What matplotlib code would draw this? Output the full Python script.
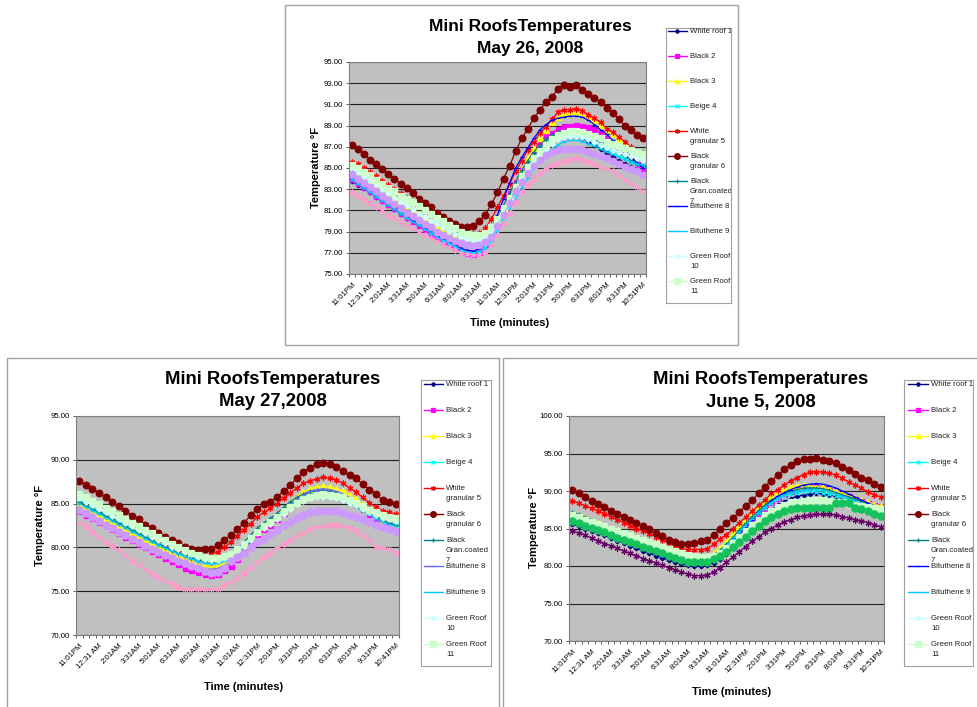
import numpy as np
import matplotlib
matplotlib.use('Agg')
import matplotlib.pyplot as plt
from matplotlib.patches import Rectangle
from matplotlib.ticker import FormatStrFormatter

plt.rcParams['font.family'] = ['Liberation Sans', 'DejaVu Sans']

W, H = 978, 707

names = ['White roof 1', 'Black 2', 'Black 3', 'Beige 4', 'White\ngranular 5',
         'Black\ngranular 6', 'Black\nGran.coated\n7', 'Bituthene 8', 'Bituthene 9',
         'Green Roof\n10', 'Green Roof\n11']

ticks_may26 = ['11:01PM', '12:31 AM', '2:01AM', '3:31AM', '5:01AM', '6:31AM', '8:01AM',
               '9:31AM', '11:01AM', '12:31PM', '2:01PM', '3:31PM', '5:01PM', '6:31PM',
               '8:01PM', '9:31PM', '10:51PM']
ticks_may27 = ticks_may26[:-1] + ['10:41PM']
ticks_jun05 = ticks_may26[:]

# ---- May 26, 2008 (30 min readings) ----
wr1_may26 = [83.8, 83.4, 83.1, 82.7, 82.3, 81.9, 81.5, 81.1, 80.7, 80.3, 80.0, 79.6, 79.2, 78.9, 78.5, 78.2, 77.9, 77.6, 77.4, 77.2,
             77.2, 77.3, 77.7, 78.5, 79.6, 80.8, 82.0, 83.2, 84.3, 85.2, 86.0, 86.7, 87.2, 87.6, 87.9, 88.0, 88.1, 88.0, 87.8, 87.5,
             87.2, 86.8, 86.4, 86.0, 85.7, 85.4, 85.1, 84.9, 84.7]
bk2_may26 = [84.0, 83.6, 83.2, 82.8, 82.4, 82.0, 81.6, 81.2, 80.8, 80.4, 80.0, 79.6, 79.2, 78.8, 78.5, 78.1, 77.8, 77.5, 77.2, 77.0,
             76.9, 77.1, 77.7, 78.8, 80.1, 81.4, 82.6, 83.7, 84.8, 85.8, 86.7, 87.5, 88.0, 88.3, 88.7, 89.0, 89.0, 89.1, 89.0, 88.9,
             88.7, 88.3, 87.8, 87.3, 86.8, 86.3, 85.8, 85.4, 85.0]
bk3_may26 = [85.0, 84.7, 84.3, 83.9, 83.5, 83.1, 82.7, 82.3, 81.9, 81.5, 81.1, 80.7, 80.3, 79.9, 79.5, 79.1, 78.7, 78.4, 78.1, 77.9,
             77.8, 77.9, 78.3, 79.0, 80.0, 81.2, 82.4, 83.6, 84.8, 85.9, 86.9, 87.8, 88.6, 89.3, 89.8, 90.1, 90.2, 90.3, 90.1, 89.8,
             89.5, 89.1, 88.6, 88.2, 87.7, 87.3, 86.8, 86.3, 86.1]
be4_may26 = [84.0, 83.6, 83.2, 82.8, 82.4, 82.0, 81.6, 81.2, 80.8, 80.4, 80.1, 79.7, 79.3, 78.9, 78.6, 78.2, 77.9, 77.6, 77.3, 77.1,
             77.0, 77.1, 77.5, 78.2, 79.2, 80.3, 81.5, 82.6, 83.7, 84.7, 85.5, 86.3, 86.9, 87.4, 87.8, 88.0, 88.1, 88.1, 87.9, 87.7,
             87.4, 87.1, 86.8, 86.5, 86.2, 85.9, 85.6, 85.4, 85.2]
wg5_may26 = [85.6, 85.4, 85.0, 84.6, 84.2, 83.8, 83.4, 83.0, 82.6, 82.2, 81.8, 81.4, 81.0, 80.6, 80.3, 79.9, 79.6, 79.3, 79.0, 78.8,
             78.8, 78.9, 79.3, 80.2, 81.3, 82.4, 83.5, 84.7, 85.7, 86.7, 87.5, 88.3, 88.9, 89.6, 90.3, 90.5, 90.5, 90.6, 90.4, 90.0,
             89.7, 89.3, 88.7, 88.4, 87.9, 87.5, 87.0, 86.5, 86.4]
bg6_may26 = [87.2, 86.8, 86.3, 85.8, 85.4, 84.9, 84.4, 84.0, 83.5, 83.1, 82.6, 82.1, 81.7, 81.3, 80.8, 80.4, 80.0, 79.7, 79.4, 79.4,
             79.5, 80.0, 80.6, 81.6, 82.7, 84.0, 85.2, 86.6, 87.8, 88.7, 89.7, 90.5, 91.2, 91.7, 92.5, 92.8, 92.6, 92.8, 92.4, 92.0,
             91.6, 91.2, 90.7, 90.2, 89.6, 89.0, 88.6, 88.1, 87.8]
bgc7_may26 = [84.3, 83.9, 83.5, 83.1, 82.7, 82.3, 81.9, 81.5, 81.1, 80.8, 80.4, 80.0, 79.7, 79.3, 79.0, 78.7, 78.4, 78.1, 77.9, 77.7,
              77.7, 77.8, 78.3, 79.1, 80.2, 81.4, 82.6, 83.7, 84.8, 85.7, 86.5, 87.2, 87.7, 88.1, 88.4, 88.5, 88.6, 88.5, 88.3, 88.0,
              87.7, 87.4, 87.1, 86.7, 86.4, 86.1, 85.8, 85.5, 85.3]
bt8_may26 = [83.9, 83.5, 83.1, 82.7, 82.3, 81.9, 81.5, 81.1, 80.7, 80.4, 80.0, 79.6, 79.3, 78.9, 78.6, 78.3, 78.0, 77.7, 77.4, 77.2,
             77.2, 77.4, 78.0, 79.2, 80.6, 82.1, 83.6, 85.0, 86.0, 86.9, 87.8, 88.6, 89.1, 89.5, 89.7, 89.8, 89.9, 89.9, 89.8, 89.5,
             89.1, 88.6, 88.2, 87.6, 87.1, 86.6, 86.1, 85.5, 85.0]
bt9_may26 = [83.9, 83.5, 83.1, 82.7, 82.3, 81.9, 81.5, 81.1, 80.7, 80.3, 79.9, 79.6, 79.2, 78.9, 78.5, 78.2, 77.9, 77.6, 77.3, 77.1,
             77.0, 77.1, 77.4, 78.0, 78.9, 79.9, 81.0, 82.1, 83.1, 84.1, 85.0, 85.7, 86.3, 86.8, 87.2, 87.5, 87.6, 87.6, 87.5, 87.3,
             87.1, 86.8, 86.5, 86.3, 86.0, 85.8, 85.6, 85.4, 85.3]
gr10_may26 = [84.9, 84.6, 84.2, 83.8, 83.4, 83.0, 82.6, 82.2, 81.8, 81.5, 81.1, 80.7, 80.4, 80.0, 79.7, 79.4, 79.1, 78.8, 78.5, 78.3,
              78.2, 78.2, 78.5, 79.0, 79.8, 80.8, 81.8, 82.8, 83.8, 84.7, 85.5, 86.2, 86.8, 87.3, 87.7, 87.9, 88.0, 88.0, 87.9, 87.7,
              87.5, 87.2, 87.0, 86.7, 86.5, 86.3, 86.1, 85.9, 85.8]
gr11_may26 = [85.3, 85.0, 84.6, 84.3, 83.9, 83.5, 83.1, 82.8, 82.4, 82.1, 81.8, 81.4, 81.0, 80.7, 80.3, 80.0, 79.6, 79.3, 79.0, 78.8,
              78.7, 78.7, 78.9, 79.4, 80.2, 81.2, 82.2, 83.2, 84.2, 85.1, 85.9, 86.6, 87.2, 87.7, 88.1, 88.3, 88.5, 88.5, 88.4, 88.2,
              88.0, 87.8, 87.5, 87.3, 87.1, 86.9, 86.7, 86.5, 86.3]
s12_may26 = [84.4, 84.0, 83.6, 83.2, 82.8, 82.4, 82.0, 81.6, 81.2, 80.8, 80.5, 80.1, 79.7, 79.4, 79.0, 78.7, 78.4, 78.1, 77.9, 77.7,
             77.6, 77.7, 78.0, 78.5, 79.5, 80.6, 81.7, 82.8, 83.7, 84.5, 85.2, 85.8, 86.2, 86.5, 86.7, 86.8, 86.8, 86.8, 86.7, 86.5,
             86.3, 86.1, 85.9, 85.7, 85.4, 85.1, 84.9, 84.7, 84.3]
s13_may26 = [82.7, 82.4, 82.0, 81.7, 81.3, 81.0, 80.6, 80.3, 79.9, 79.6, 79.3, 79.0, 78.7, 78.4, 78.1, 77.8, 77.5, 77.3, 77.0, 76.9,
             76.8, 76.8, 77.1, 77.7, 78.7, 79.8, 80.8, 81.8, 82.7, 83.4, 84.0, 84.5, 84.9, 85.3, 85.5, 85.7, 85.8, 85.9, 85.8, 85.6,
             85.4, 85.1, 84.9, 84.7, 84.3, 83.9, 83.6, 83.2, 82.8]

# ---- May 27, 2008 ----
wr1_may27 = [84.5, 84.0, 83.6, 83.2, 82.8, 82.4, 82.0, 81.5, 81.1, 80.7, 80.3, 79.9, 79.5, 79.2, 78.8, 78.5, 78.2, 77.9, 77.6, 77.5,
             77.4, 77.5, 77.8, 78.3, 79.0, 79.8, 80.7, 81.6, 82.2, 82.7, 83.3, 84.0, 84.7, 85.4, 85.9, 86.3, 86.5, 86.6, 86.5, 86.3,
             86.0, 85.6, 85.1, 84.5, 83.9, 83.3, 82.8, 82.3, 82.0]
bk2_may27 = [84.2, 83.7, 83.3, 82.9, 82.5, 82.1, 81.6, 81.2, 80.8, 80.4, 80.0, 79.6, 79.2, 78.8, 78.4, 78.1, 77.7, 77.4, 77.2, 77.0,
             76.9, 77.0, 77.4, 77.9, 78.7, 79.6, 80.5, 81.5, 82.1, 82.6, 83.2, 83.9, 84.6, 85.2, 85.8, 86.1, 86.3, 86.4, 86.3, 86.1,
             85.8, 85.4, 84.9, 84.4, 83.8, 83.2, 82.7, 82.2, 81.9]
bk3_may27 = [85.0, 84.6, 84.2, 83.8, 83.4, 83.0, 82.6, 82.2, 81.7, 81.3, 80.9, 80.5, 80.1, 79.7, 79.3, 79.0, 78.6, 78.3, 78.0, 77.9,
             77.8, 77.9, 78.2, 78.7, 79.4, 80.2, 81.1, 82.0, 82.6, 83.1, 83.7, 84.4, 85.1, 85.8, 86.3, 86.7, 86.9, 87.0, 86.9, 86.7,
             86.4, 86.0, 85.5, 84.9, 84.3, 83.7, 83.1, 82.6, 82.3]
be4_may27 = [85.3, 84.9, 84.5, 84.1, 83.7, 83.3, 82.9, 82.5, 82.1, 81.7, 81.3, 80.9, 80.5, 80.2, 79.8, 79.5, 79.2, 78.9, 78.7, 78.5,
             78.4, 78.5, 78.7, 79.1, 79.7, 80.4, 81.1, 81.9, 82.5, 83.0, 83.6, 84.2, 84.8, 85.3, 85.7, 86.0, 86.2, 86.2, 86.1, 86.0,
             85.7, 85.3, 84.9, 84.4, 83.9, 83.4, 83.0, 82.7, 82.5]
wg5_may27 = [85.9, 85.5, 85.1, 84.7, 84.3, 83.9, 83.4, 83.0, 82.5, 82.1, 81.6, 81.2, 80.8, 80.4, 80.0, 79.7, 79.4, 79.2, 79.1, 79.1,
             79.2, 79.5, 80.0, 80.6, 81.3, 82.0, 82.7, 83.5, 84.0, 84.5, 85.0, 85.6, 86.2, 86.8, 87.3, 87.6, 87.8, 88.0, 87.9, 87.7,
             87.3, 86.8, 86.3, 85.7, 85.1, 84.6, 84.2, 84.0, 83.8]
bg6_may27 = [87.6, 87.1, 86.7, 86.2, 85.7, 85.2, 84.7, 84.2, 83.6, 83.2, 82.6, 82.2, 81.7, 81.2, 80.8, 80.5, 80.1, 79.8, 79.7, 79.8,
             79.8, 80.3, 80.8, 81.4, 82.1, 82.8, 83.7, 84.4, 84.9, 85.2, 85.8, 86.4, 87.1, 87.9, 88.6, 89.1, 89.5, 89.6, 89.5, 89.2,
             88.7, 88.3, 87.9, 87.2, 86.6, 86.1, 85.4, 85.2, 85.0]
bgc7_may27 = [85.2, 84.8, 84.4, 84.0, 83.6, 83.2, 82.8, 82.4, 82.0, 81.6, 81.2, 80.8, 80.4, 80.1, 79.7, 79.4, 79.1, 78.8, 78.6, 78.4,
              78.3, 78.4, 78.7, 79.1, 79.8, 80.6, 81.4, 82.2, 82.8, 83.3, 83.9, 84.6, 85.2, 85.7, 86.1, 86.4, 86.5, 86.5, 86.4, 86.2,
              85.9, 85.5, 85.0, 84.5, 84.0, 83.5, 83.1, 82.8, 82.5]
bt8_may27 = [84.3, 83.9, 83.5, 83.1, 82.7, 82.3, 81.9, 81.5, 81.1, 80.7, 80.3, 79.9, 79.5, 79.2, 78.8, 78.5, 78.2, 77.9, 77.7, 77.6,
             77.5, 77.6, 77.9, 78.4, 79.1, 79.9, 80.8, 81.7, 82.3, 82.8, 83.4, 84.1, 84.8, 85.5, 86.0, 86.4, 86.6, 86.7, 86.6, 86.4,
             86.1, 85.7, 85.2, 84.6, 84.0, 83.4, 82.9, 82.4, 82.1]
bt9_may27 = [85.0, 84.6, 84.2, 83.8, 83.4, 83.0, 82.6, 82.2, 81.8, 81.4, 81.0, 80.6, 80.3, 79.9, 79.6, 79.3, 79.0, 78.7, 78.4, 78.2,
             78.1, 78.2, 78.4, 78.8, 79.4, 80.1, 80.8, 81.6, 82.2, 82.7, 83.3, 83.9, 84.5, 85.0, 85.4, 85.7, 85.9, 85.9, 85.8, 85.7,
             85.4, 85.0, 84.6, 84.1, 83.7, 83.3, 82.9, 82.6, 82.4]
gr10_may27 = [85.6, 85.2, 84.8, 84.4, 84.0, 83.6, 83.2, 82.8, 82.4, 82.0, 81.6, 81.2, 80.8, 80.5, 80.1, 79.8, 79.5, 79.2, 78.9, 78.7,
              78.6, 78.6, 78.8, 79.1, 79.6, 80.2, 80.9, 81.6, 82.2, 82.7, 83.2, 83.8, 84.4, 84.9, 85.3, 85.6, 85.8, 85.8, 85.8, 85.6,
              85.4, 85.1, 84.8, 84.4, 84.0, 83.7, 83.4, 83.2, 83.0]
gr11_may27 = [86.1, 85.7, 85.3, 84.9, 84.5, 84.1, 83.7, 83.2, 82.8, 82.4, 82.0, 81.6, 81.2, 80.8, 80.4, 80.1, 79.7, 79.4, 79.1, 78.9,
              78.8, 78.8, 79.0, 79.3, 79.8, 80.4, 81.1, 81.8, 82.4, 82.9, 83.5, 84.1, 84.6, 85.1, 85.5, 85.8, 86.0, 86.1, 86.0, 85.9,
              85.7, 85.4, 85.1, 84.7, 84.3, 84.0, 83.7, 83.5, 83.3]
s12_may27 = [84.3, 83.9, 83.5, 83.0, 82.6, 82.2, 81.8, 81.4, 81.0, 80.6, 80.2, 79.8, 79.5, 79.1, 78.8, 78.5, 78.2, 77.9, 77.6, 77.3,
             77.1, 77.2, 77.7, 78.5, 78.9, 79.4, 80.0, 80.6, 81.0, 81.5, 82.0, 82.5, 82.9, 83.3, 83.7, 84.0, 84.2, 84.2, 84.2, 84.1,
             83.9, 83.7, 83.5, 83.2, 82.9, 82.6, 82.3, 82.1, 81.9]
s13_may27 = [82.8, 82.4, 81.8, 81.2, 80.6, 80.2, 79.7, 79.1, 78.5, 78.0, 77.5, 77.0, 76.6, 76.2, 75.8, 75.5, 75.2, 75.2, 75.2, 75.2,
             75.2, 75.3, 75.7, 76.1, 76.5, 77.1, 77.7, 78.3, 78.9, 79.4, 79.9, 80.4, 80.8, 81.3, 81.7, 82.1, 82.3, 82.4, 82.5, 82.5,
             82.4, 82.2, 81.9, 81.4, 80.8, 80.1, 79.9, 79.8, 79.4]

# ---- June 5, 2008 ----
wr1_jun05 = [85.6, 85.3, 85.0, 84.7, 84.4, 84.1, 83.7, 83.4, 83.1, 82.7, 82.4, 82.0, 81.7, 81.4, 81.1, 80.8, 80.5, 80.3, 80.1, 80.0,
             80.0, 80.1, 80.4, 80.9, 81.6, 82.4, 83.3, 84.2, 85.1, 86.0, 86.8, 87.5, 88.1, 88.6, 89.0, 89.3, 89.5, 89.6, 89.7, 89.6,
             89.5, 89.3, 89.1, 88.8, 88.6, 88.3, 88.1, 87.9, 87.7]
bk2_jun05 = [86.2, 85.9, 85.6, 85.3, 85.0, 84.6, 84.3, 84.0, 83.7, 83.3, 83.0, 82.7, 82.4, 82.1, 81.8, 81.5, 81.2, 81.0, 80.9, 80.8,
             80.8, 80.9, 81.2, 81.8, 82.5, 83.4, 84.3, 85.3, 86.2, 87.0, 87.8, 88.5, 89.1, 89.6, 90.0, 90.3, 90.5, 90.5, 90.5, 90.4,
             90.2, 89.9, 89.6, 89.3, 89.0, 88.7, 88.4, 88.2, 88.0]
bk3_jun05 = [87.0, 86.7, 86.4, 86.0, 85.7, 85.4, 85.0, 84.7, 84.4, 84.0, 83.7, 83.4, 83.0, 82.7, 82.4, 82.1, 81.8, 81.5, 81.3, 81.2,
             81.2, 81.3, 81.7, 82.4, 83.3, 84.3, 85.3, 86.3, 87.2, 88.0, 88.7, 89.4, 89.9, 90.3, 90.6, 90.7, 90.8, 90.7, 90.6, 90.5,
             90.3, 90.0, 89.7, 89.4, 89.1, 88.8, 88.5, 88.2, 88.0]
be4_jun05 = [86.8, 86.5, 86.2, 85.8, 85.5, 85.2, 84.8, 84.5, 84.2, 83.8, 83.5, 83.2, 82.8, 82.5, 82.2, 81.9, 81.6, 81.3, 81.1, 81.0,
             81.0, 81.1, 81.4, 82.0, 82.8, 83.7, 84.6, 85.5, 86.3, 87.1, 87.8, 88.4, 88.9, 89.3, 89.6, 89.8, 89.9, 90.0, 89.9, 89.8,
             89.6, 89.4, 89.1, 88.8, 88.6, 88.3, 88.1, 87.9, 87.8]
wg5_jun05 = [88.7, 88.4, 88.0, 87.7, 87.4, 87.0, 86.6, 86.2, 85.8, 85.4, 85.0, 84.7, 84.3, 83.9, 83.5, 83.1, 82.7, 82.3, 82.2, 82.2,
             82.2, 82.3, 82.9, 83.6, 84.2, 84.9, 85.8, 86.5, 87.3, 88.1, 88.8, 89.7, 90.2, 90.8, 91.4, 91.8, 92.2, 92.5, 92.6, 92.5,
             92.4, 92.1, 91.7, 91.2, 90.8, 90.4, 89.9, 89.5, 89.2]
bg6_jun05 = [90.2, 89.8, 89.2, 88.7, 88.3, 87.9, 87.4, 87.0, 86.6, 86.2, 85.7, 85.3, 84.9, 84.4, 84.0, 83.5, 83.2, 83.0, 82.9, 83.1,
             83.3, 83.5, 84.1, 85.0, 85.7, 86.4, 87.2, 88.0, 88.8, 89.7, 90.6, 91.4, 92.1, 92.9, 93.5, 94.0, 94.3, 94.3, 94.4, 94.1,
             94.0, 93.7, 93.2, 92.8, 92.3, 91.8, 91.5, 91.0, 90.6]
bgc7_jun05 = [87.2, 86.9, 86.5, 86.2, 85.8, 85.5, 85.1, 84.8, 84.4, 84.1, 83.7, 83.4, 83.0, 82.7, 82.4, 82.1, 81.8, 81.5, 81.2, 81.1,
              81.0, 81.1, 81.5, 82.1, 82.9, 83.8, 84.8, 85.7, 86.6, 87.4, 88.1, 88.8, 89.3, 89.7, 90.0, 90.2, 90.4, 90.4, 90.4, 90.3,
              90.1, 89.8, 89.5, 89.2, 88.9, 88.6, 88.3, 88.0, 87.8]
bt8_jun05 = [86.0, 85.7, 85.3, 85.0, 84.7, 84.3, 84.0, 83.6, 83.3, 82.9, 82.6, 82.2, 81.9, 81.6, 81.3, 81.0, 80.7, 80.4, 80.2, 80.1,
             80.1, 80.2, 80.6, 81.3, 82.2, 83.2, 84.2, 85.2, 86.2, 87.1, 87.9, 88.7, 89.3, 89.8, 90.2, 90.5, 90.8, 90.9, 91.0, 90.9,
             90.7, 90.4, 90.0, 89.6, 89.2, 88.8, 88.4, 88.0, 87.7]
bt9_jun05 = [86.6, 86.3, 86.0, 85.6, 85.3, 85.0, 84.6, 84.3, 84.0, 83.6, 83.3, 83.0, 82.6, 82.3, 82.0, 81.7, 81.4, 81.2, 81.0, 80.9,
             80.9, 81.0, 81.3, 81.9, 82.7, 83.6, 84.5, 85.4, 86.3, 87.1, 87.9, 88.5, 89.1, 89.5, 89.8, 90.0, 90.1, 90.2, 90.2, 90.1,
             89.9, 89.6, 89.3, 89.0, 88.7, 88.4, 88.1, 87.8, 87.6]
gr10_jun05 = [86.5, 86.2, 85.9, 85.6, 85.3, 85.0, 84.7, 84.4, 84.1, 83.8, 83.5, 83.2, 82.9, 82.6, 82.3, 82.0, 81.7, 81.4, 81.2, 81.1,
              81.0, 81.0, 81.2, 81.6, 82.2, 82.9, 83.7, 84.5, 85.2, 85.9, 86.5, 87.0, 87.5, 87.9, 88.2, 88.4, 88.5, 88.6, 88.6, 88.6,
              88.5, 88.4, 88.3, 88.1, 87.9, 87.8, 87.6, 87.4, 87.3]
gr11_jun05 = [86.8, 86.5, 86.2, 85.9, 85.6, 85.3, 85.0, 84.7, 84.4, 84.1, 83.8, 83.5, 83.2, 82.9, 82.6, 82.3, 82.0, 81.7, 81.5, 81.3,
              81.2, 81.2, 81.4, 81.8, 82.4, 83.1, 83.9, 84.7, 85.5, 86.2, 86.8, 87.4, 87.9, 88.2, 88.5, 88.6, 88.7, 88.8, 88.8, 88.8,
              88.7, 88.6, 88.5, 88.3, 88.2, 88.0, 87.9, 87.7, 87.6]
s12_jun05 = [86.0, 85.7, 85.4, 85.1, 84.8, 84.5, 84.2, 83.8, 83.5, 83.2, 82.9, 82.6, 82.3, 82.0, 81.7, 81.4, 81.1, 80.8, 80.6, 80.5,
             80.5, 80.6, 80.9, 81.4, 81.9, 82.5, 83.2, 83.9, 84.7, 85.3, 86.0, 86.5, 87.0, 87.3, 87.6, 87.7, 87.7, 87.7, 87.7, 87.7,
             87.7, 88.4, 88.4, 88.4, 87.7, 87.6, 87.3, 87.0, 86.7]
s13_jun05 = [84.7, 84.4, 84.1, 83.7, 83.4, 83.0, 82.7, 82.4, 82.0, 81.7, 81.4, 81.0, 80.7, 80.4, 80.1, 79.8, 79.5, 79.2, 78.9, 78.7,
             78.7, 78.8, 79.2, 79.8, 80.5, 81.2, 81.9, 82.6, 83.3, 83.9, 84.5, 85.0, 85.5, 85.9, 86.2, 86.5, 86.7, 86.8, 86.9, 86.9,
             86.9, 86.8, 86.6, 86.4, 86.2, 86.0, 85.8, 85.5, 85.2]

STAR = (6, 2, 0)

# colour, marker, marker size
base_styles = [
    ('#000080', 'D', 2.4),
    ('#FF00FF', 's', 3.6),
    ('#FFFF00', '^', 3.8),
    ('#00FFFF', 'x', 3.2),
    ('#FF0000', STAR, 4.2),
    ('#800000', 'o', 4.8),
    ('#008080', '+', 3.6),
    ('#0000FF', '_', 3.0),
    ('#00CCFF', '_', 3.0),
    ('#CCFFFF', 'D', 2.8),
    ('#CCFFCC', 's', 4.6),
]
styles_may26 = base_styles + [('#CC99FF', 'o', 4.8), ('#FF99CC', STAR, 4.2)]
styles_may27 = base_styles[:7] + [('#6666FF', '_', 3.0)] + base_styles[8:] + \
    [('#CC99FF', 'o', 5.2), ('#FF99CC', STAR, 4.4)]
styles_jun05 = base_styles + [('#16C25C', 'o', 5.2), ('#660066', STAR, 4.4)]


def px_rect(x0, y0, x1, y1):
    return [x0 / W, 1 - y1 / H, (x1 - x0) / W, (y1 - y0) / H]


def fig_text(x, y, s, **kw):
    fig.text(x / W, 1 - y / H, s, **kw)


def draw_chart(box, plot, series, styles, yticks, xlabels, date, title_x, title_y,
               ylab_xy, xlab_xy, leg_box, leg_y, leg_x):
    # panel frame
    fig.add_artist(Rectangle((box[0] / W, 1 - box[3] / H), (box[2] - box[0]) / W,
                             (box[3] - box[1]) / H, transform=fig.transFigure,
                             fill=False, ec='#a0a0a0', lw=1.0))
    ax = fig.add_axes(px_rect(*plot))
    ax.set_facecolor('#c0c0c0')
    x = np.arange(len(series[0]))
    for vals, (c, m, ms) in zip(series, styles):
        ax.plot(x, vals, color=c, lw=0.9, marker=m, ms=ms, mfc=c, mec=c, mew=0.9)
    ax.set_xlim(-0.5, len(x) - 0.5)
    ax.set_ylim(yticks[0], yticks[-1])
    ax.set_yticks(yticks)
    ax.yaxis.set_major_formatter(FormatStrFormatter('%.2f'))
    ax.grid(axis='y', color='#202020', lw=0.8)
    ax.set_axisbelow(True)
    ax.set_xticks(np.arange(0, len(x), 3))
    ax.set_xticklabels(xlabels, rotation=45, ha='right', va='top', rotation_mode='anchor')
    ax.set_xticks(np.arange(-0.5, len(x), 1), minor=True)
    ax.tick_params(axis='x', which='major', length=0, pad=5, labelsize=5.6)
    ax.tick_params(axis='x', which='minor', length=2.5, width=0.6, color='#404040')
    ax.tick_params(axis='y', length=2.5, width=0.6, color='#404040', pad=2, labelsize=5.6)
    for sp in ax.spines.values():
        sp.set_color('#808080')
        sp.set_linewidth(0.8)

    fig_text(title_x, title_y[0], 'Mini RoofsTemperatures', ha='center', va='center',
             fontsize=title_y[2], fontweight='bold')
    fig_text(title_x, title_y[1], date, ha='center', va='center',
             fontsize=title_y[2], fontweight='bold')
    fig_text(ylab_xy[0], ylab_xy[1], 'Temperature °F', rotation=90, ha='center',
             va='center', fontsize=8, fontweight='bold')
    fig_text(xlab_xy[0], xlab_xy[1], 'Time (minutes)', ha='center', va='center',
             fontsize=8, fontweight='bold')

    # legend drawn as in the spreadsheet: fixed row pitch, wrapped names
    lg = fig.add_axes(px_rect(*leg_box))
    lg.set_xlim(leg_box[0], leg_box[2])
    lg.set_ylim(leg_box[3], leg_box[1])
    lg.set_xticks([])
    lg.set_yticks([])
    for sp in lg.spines.values():
        sp.set_color('#a0a0a0')
        sp.set_linewidth(0.8)
    for k, name in enumerate(names):
        c, m, ms = styles[k]
        y = leg_y[0] + k * leg_y[1]
        lg.plot([leg_x[0], leg_x[1]], [y, y], color=c, lw=1.0, clip_on=False)
        lg.plot([(leg_x[0] + leg_x[1]) / 2], [y], color=c, marker=m, ms=ms * 0.85,
                mfc=c, mec=c, mew=0.9, clip_on=False)
        lg.text(leg_x[1] + 3, y - 3.0, name, fontsize=5.6, va='top', ha='left',
                linespacing=1.6, color='#202020', clip_on=True)


fig = plt.figure(figsize=(W / 100, H / 100), dpi=100)

draw_chart(box=(285, 5, 738, 345), plot=(349, 62, 646, 274),
           series=[wr1_may26, bk2_may26, bk3_may26, be4_may26, wg5_may26, bg6_may26, bgc7_may26,
                   bt8_may26, bt9_may26, gr10_may26, gr11_may26, s12_may26, s13_may26],
           styles=styles_may26, yticks=np.arange(75, 95.01, 2), xlabels=ticks_may26,
           date='May 26, 2008', title_x=530, title_y=(26, 49, 12.5),
           ylab_xy=(316, 168), xlab_xy=(510, 323),
           leg_box=(666, 28, 731, 303), leg_y=(31, 25), leg_x=(668, 687))

draw_chart(box=(7, 358, 499, 712), plot=(76, 416, 399, 635),
           series=[wr1_may27, bk2_may27, bk3_may27, be4_may27, wg5_may27, bg6_may27, bgc7_may27,
                   bt8_may27, bt9_may27, gr10_may27, gr11_may27, s12_may27, s13_may27],
           styles=styles_may27, yticks=np.arange(70, 95.01, 5), xlabels=ticks_may27,
           date='May 27,2008', title_x=273, title_y=(379, 402, 13.3),
           ylab_xy=(40, 526), xlab_xy=(244, 687),
           leg_box=(421, 380, 491, 666), leg_y=(384, 26), leg_x=(424, 443))

draw_chart(box=(503, 358, 985, 712), plot=(569, 416, 884, 641),
           series=[wr1_jun05, bk2_jun05, bk3_jun05, be4_jun05, wg5_jun05, bg6_jun05, bgc7_jun05,
                   bt8_jun05, bt9_jun05, gr10_jun05, gr11_jun05, s12_jun05, s13_jun05],
           styles=styles_jun05, yticks=np.arange(70, 100.01, 5), xlabels=ticks_jun05,
           date='June 5, 2008', title_x=761, title_y=(379, 402, 13.3),
           ylab_xy=(534, 527), xlab_xy=(732, 692),
           leg_box=(904, 380, 973, 666), leg_y=(384, 26), leg_x=(908, 928))

fig.savefig('out.png', dpi=100)
